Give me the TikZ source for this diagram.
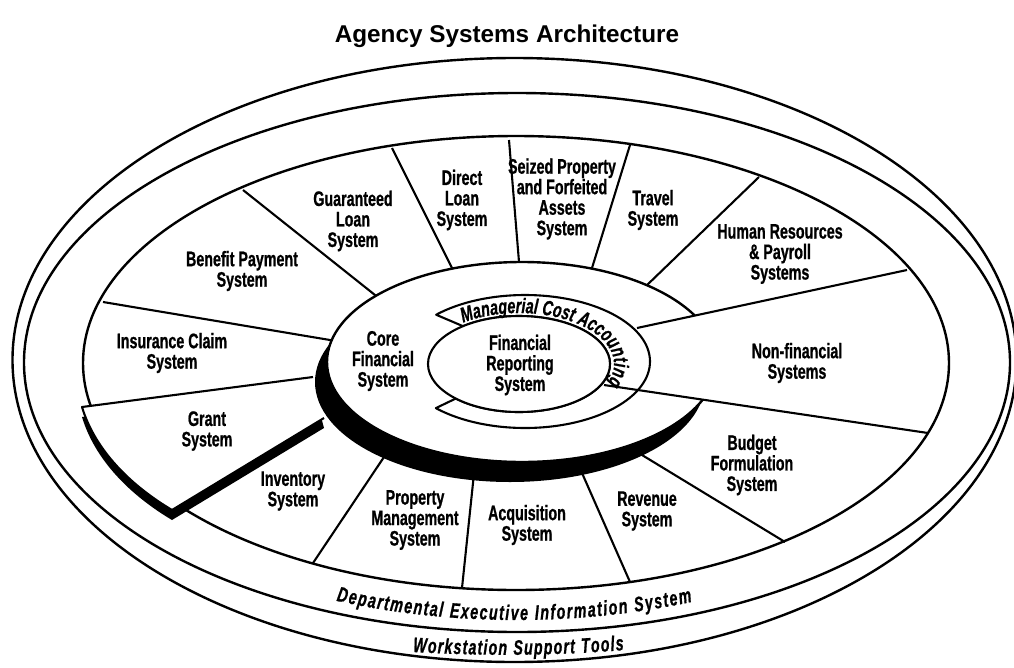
\documentclass[tikz,border=0pt]{standalone}
\usepackage{fontspec}
\usetikzlibrary{decorations.text,calc}
\newfontfamily\labfont{Liberation Sans Bold}[FakeStretch=0.68, FakeBold=0.8]
\newfontfamily\bandfont{Liberation Sans Bold Italic}[FakeStretch=0.68, FakeBold=0.8]
\newfontfamily\titfont{Liberation Sans Bold}
\newcommand\bandtext{\bandfont\fontsize{21}{21}\selectfont}
\tikzset{
  ringline/.style={line width=2.4pt},
  radline/.style={line width=2.1pt},
  lab/.style={font=\labfont\fontsize{21}{20.5}\selectfont, align=center, inner sep=0pt},
}
\begin{document}
\begin{tikzpicture}[x=1pt,y=1pt]
\useasboundingbox (0,-667) rectangle (1014,0);
\fill[white] (0,-667) rectangle (1014,0);
\node[font=\titfont\fontsize{24.3}{28}\selectfont, anchor=base] (title) at (507,-42) {Agency Systems Architecture};

% outer ellipses
\draw[ringline] (514.5,-360) ellipse [x radius=502, y radius=302];
\draw[ringline] (517,-362.5) ellipse [x radius=493, y radius=269.5];
\draw[ringline] (516,-363) ellipse [x radius=433, y radius=227];

% band texts
\path[decorate, decoration={text along path, text={|\bandtext|Departmental Executive Information System}, text align={fit to path}}]
  ([shift={(516.5,-363)}]247.7:475 and 257) arc[start angle=247.7, end angle=291.7, x radius=475, y radius=257];
\path[decorate, decoration={text along path, text={|\bandtext|Workstation Support Tools}, text align={fit to path}}]
  (413,-652) .. controls (480,-656) and (556,-656) .. (624,-650);

% radial lines
\foreach \xi/\yi/\xo/\yo in {375/295/243/190, 452/268/392/148, 519/262/509/140, 592/268/630/145,
  645/287/759/177, 642/455/785/542, 582/473/630/582, 473/483/462/588, 382/460/313/563, 330/340/103/302}
  { \draw[radline] ($(\xi,-\yi)!-8pt!(\xo,-\yo)$) -- (\xo,-\yo); }

% grant piece pulled out
\begin{scope}[yshift=-10pt]
\fill (82,-407) -- (313,-377) -- (324,-418) -- (172,-510) .. controls (130,-485) and (95,-450) .. (82,-407) -- cycle;
\end{scope}
\fill[white] (82,-407) -- (313,-377) -- (324,-418) -- (172,-510) .. controls (130,-485) and (95,-450) .. (82,-407) -- cycle;
\draw[radline, line join=round] (313,-377) -- (82,-407) .. controls (95,-450) and (130,-485) .. (172,-510) -- (324,-418);

% core financial system disc with shadow
\fill (510,-382) ellipse [x radius=195, y radius=100];
\draw[ringline, fill=white] (522,-362) ellipse [x radius=195, y radius=100];

% non-financial wedge cutting into the core
\fill[white] (637,-328) -- (780,-297) -- (780,-411) -- (604,-385) -- cycle;

% managerial cost accounting ring
\draw[radline, fill=white, line join=round]
  ([shift={(525,-361.5)}]135.3:125 and 66.5) arc[start angle=135.3, end angle=-135.5, x radius=125, y radius=66.5]
  -- ([shift={(519,-364)}]-134:91 and 48) arc[start angle=-134, end angle=128, x radius=91, y radius=48] -- cycle;
\draw[radline, fill=white] (519,-364) ellipse [x radius=91, y radius=48];

\draw[radline] (637,-328) -- (907,-270);
\draw[radline] (604,-385) -- (928,-433);

\path[decorate, decoration={text along path, text={|\bandtext|Managerial Cost Accounting}, text align={fit to path}}]
  ([shift={(519,-364)}]126:95 and 51) arc[start angle=126, end angle=-22, x radius=95, y radius=51];

% labels
\node[lab] (guar) at (353,-221) {Guaranteed\\Loan\\System};
\node[lab] (dir) at (462,-200) {Direct\\Loan\\System};
\node[lab] (seiz) at (562,-199) {Seized Property\\and Forfeited\\Assets\\System};
\node[lab] (trav) at (653,-210) {Travel\\System};
\node[lab] (hr) at (780,-254) {Human Resources\\\& Payroll\\Systems};
\node[lab] (ben) at (242,-271) {Benefit Payment\\System};
\node[lab] (ins) at (172,-353) {Insurance Claim\\System};
\node[lab] (core) at (383,-361) {Core\\Financial\\System};
\node[lab] (fr) at (520,-365) {Financial\\Reporting\\System};
\node[lab] (nonfin) at (797,-363) {Non-financial\\Systems};
\node[lab] (grant) at (207,-431) {Grant\\System};
\node[lab] (inv) at (293,-491) {Inventory\\System};
\node[lab] (prop) at (415,-520) {Property\\Management\\System};
\node[lab] (acq) at (527,-525) {Acquisition\\System};
\node[lab] (rev) at (647,-511) {Revenue\\System};
\node[lab] (bud) at (752,-465) {Budget\\Formulation\\System};
\end{tikzpicture}
\end{document}
